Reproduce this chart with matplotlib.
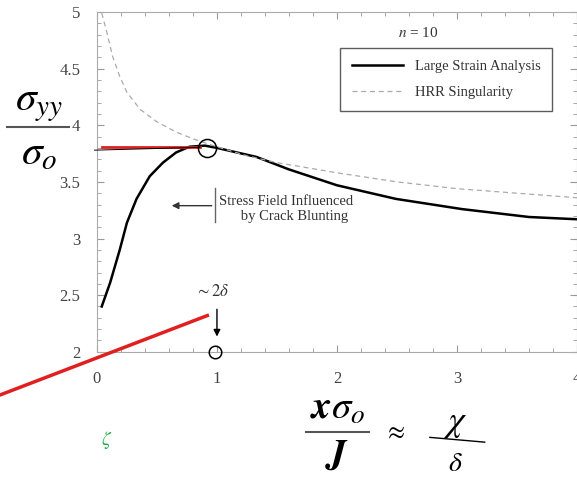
import numpy as np
import matplotlib.pyplot as plt
from matplotlib.ticker import MultipleLocator

plt.rcParams['font.family'] = ['Liberation Serif', 'DejaVu Serif']
plt.rcParams['mathtext.fontset'] = 'stix'

# Large strain analysis curve
x_large = [0.04, 0.11, 0.19, 0.25, 0.33, 0.44, 0.55, 0.66, 0.77, 0.9, 1.0, 1.33,
           1.6, 2.0, 2.49, 3.04, 3.6, 4.0]
y_large = [2.40, 2.61, 2.90, 3.14, 3.35, 3.55, 3.67, 3.76, 3.81, 3.82, 3.80, 3.72,
           3.61, 3.47, 3.35, 3.26, 3.19, 3.17]

# HRR singularity curve
x_hrr = [0.04, 0.08, 0.13, 0.19, 0.25, 0.36, 0.5, 0.66, 0.8, 1.0, 1.25, 1.5,
         2.0, 2.5, 3.0, 3.5, 4.0]
y_hrr = [4.99, 4.83, 4.61, 4.43, 4.29, 4.14, 4.03, 3.94, 3.88, 3.81, 3.73, 3.67,
         3.58, 3.5, 3.44, 3.4, 3.36]

x_ticks = [0, 1, 2, 3, 4]
y_ticks = [2, 2.5, 3, 3.5, 4, 4.5, 5]
y_tick_labels = ['2', '2.5', '3', '3.5', '4', '4.5', '5']

fig = plt.figure(figsize=(5.77, 4.78), dpi=100)
ax = fig.add_axes([0.168, 0.264, 0.832, 0.711])

ax.plot(x_large, y_large, color='black', lw=1.8, label='Large Strain Analysis')
ax.plot(x_hrr, y_hrr, color='#aaaaaa', lw=0.9, ls=(0, (4, 3)), label='HRR Singularity')

ax.set_xlim(0, 4)
ax.set_ylim(2, 5)
ax.set_xticks(x_ticks)
ax.set_yticks(y_ticks)
ax.set_yticklabels(y_tick_labels)
ax.xaxis.set_minor_locator(MultipleLocator(0.2))
ax.yaxis.set_minor_locator(MultipleLocator(0.1))
ax.tick_params(which='both', direction='in', top=True, right=True, colors='#999999',
               labelcolor='#444444', labelsize=12)
ax.tick_params(which='major', length=5)
ax.tick_params(which='minor', length=3)
ax.tick_params(axis='x', pad=14)
ax.tick_params(axis='y', pad=12)
for s in ax.spines.values():
    s.set_color('#aaaaaa')
    s.set_linewidth(0.8)

leg = ax.legend(loc='upper right', bbox_to_anchor=(0.948, 0.894), borderaxespad=0,
                fontsize=10.5, frameon=True, fancybox=False, edgecolor='#333333',
                handlelength=3.5, borderpad=0.8, labelspacing=0.9)
leg.get_frame().set_linewidth(1.0)
for t in leg.get_texts():
    t.set_color('#333333')

ax.text(2.68, 4.81, r'$n$ = 10', fontsize=11, ha='center', va='center', color='#333333')

# blunting annotation
ax.plot([0.98, 0.98], [3.15, 3.45], color='#666666', lw=1)
ax.annotate('', xy=(0.6, 3.29), xytext=(0.98, 3.29),
            arrowprops=dict(arrowstyle='-|>', color='#333333', lw=1, mutation_scale=10))
ax.text(1.02, 3.26, 'Stress Field Influenced\n      by Crack Blunting', fontsize=10.5,
        va='center', ha='left', color='#333333', linespacing=1.15)

# ~2 delta marker
ax.text(0.96, 2.46, r'$\sim 2\delta$', fontsize=12, ha='center', va='bottom', color='#333333')
ax.annotate('', xy=(1.0, 2.11), xytext=(1.0, 2.40),
            arrowprops=dict(arrowstyle='-|>', color='black', lw=1, mutation_scale=10))

# hand-drawn marks
ax.plot([0.04, 0.86], [3.805, 3.805], color='#e02020', lw=2, clip_on=False, zorder=4)
ax.plot([-0.02, 0.86], [3.78, 3.805], color='black', lw=0.7, clip_on=False, zorder=4)
ax.plot([-0.805, 0.92], [1.62, 2.32], color='#e02020', lw=2.5, clip_on=False, zorder=4)
ax.plot([0.92], [3.8], marker='o', ms=13, mfc='none', mec='black', mew=1.1, zorder=5)
ax.plot([0.98], [2.0], marker='o', ms=9, mfc='none', mec='black', mew=1.1,
        clip_on=False, zorder=5)

# axis labels as stacked fractions
fig.text(0.068, 0.74, r'$\boldsymbol{\sigma_{yy}}$', fontsize=30, ha='center', va='bottom')
fig.text(0.068, 0.718, r'$\boldsymbol{\sigma_o}$', fontsize=30, ha='center', va='top')
fig.add_artist(plt.Line2D([0.012, 0.12], [0.735, 0.735], color='#555555', lw=1.5))

fig.text(0.585, 0.104, r'$\boldsymbol{x\sigma_o}$', fontsize=28, ha='center', va='bottom')
fig.text(0.585, 0.085, r'$\boldsymbol{J}$', fontsize=28, ha='center', va='top')
fig.add_artist(plt.Line2D([0.53, 0.64], [0.096, 0.096], color='#555555', lw=1.5))

fig.text(0.685, 0.095, r'$\approx$', fontsize=18, ha='center', va='center')
fig.text(0.79, 0.08, r'$\chi$', fontsize=26, ha='center', va='bottom')
fig.text(0.79, 0.055, r'$\delta$', fontsize=20, ha='center', va='top')
fig.add_artist(plt.Line2D([0.745, 0.84], [0.085, 0.075], color='black', lw=1))
fig.text(0.185, 0.08, r'$\zeta$', fontsize=14, color='#22aa44', ha='center', va='center')

fig.savefig('out.png', dpi=100)
